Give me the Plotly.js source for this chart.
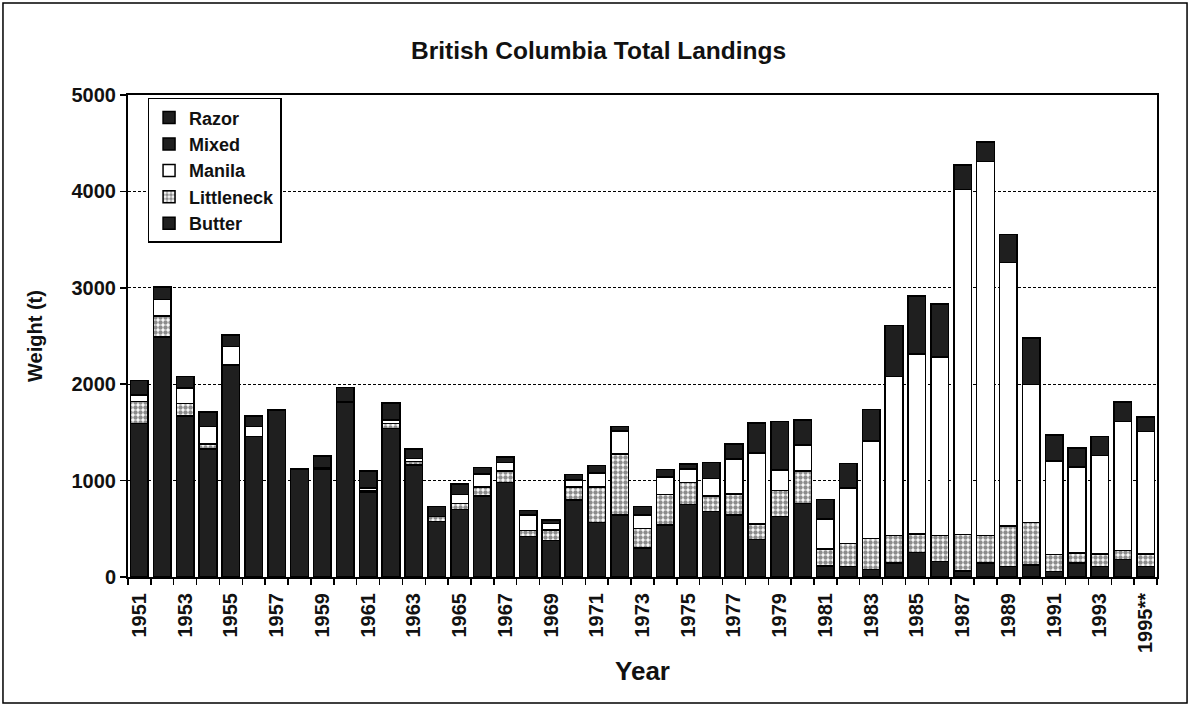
<!DOCTYPE html>
<html>
<head>
<meta charset="utf-8">
<script src="https://cdn.plot.ly/plotly-3.0.1.min.js"></script>
<style>
  html, body { margin: 0; padding: 0; background: #fff; }
  #chart { width: 1190px; height: 706px; }
</style>
</head>
<body>
<div id="chart"></div>
<script>
const years = [1951,1952,1953,1954,1955,1956,1957,1958,1959,1960,
  1961,1962,1963,1964,1965,1966,1967,1968,1969,1970,
  1971,1972,1973,1974,1975,1976,1977,1978,1979,1980,
  1981,1982,1983,1984,1985,1986,1987,1988,1989,1990,
  1991,1992,1993,1994,1995];

const butter = [1590,2490,1670,1330,2200,1460,1730,1120,1120,1810,
  880,1540,1160,575,700,840,980,420,380,800,
  565,645,300,540,750,680,645,390,630,765,
  115,110,80,145,255,160,60,145,110,125,
  55,145,110,180,110];

const littleneck = [230,220,130,50,0,0,0,0,0,10,
  15,50,40,55,65,95,120,60,110,135,
  370,630,205,315,230,160,215,160,265,335,
  175,235,320,285,190,270,380,285,420,440,
  180,105,130,95,130];

const manila = [70,170,160,180,190,100,0,0,10,0,
  30,40,30,0,90,135,90,165,65,70,
  145,240,140,180,140,180,365,735,215,270,
  310,580,1010,1650,1870,1850,3580,3880,2730,1430,
  970,890,1020,1340,1270];

const mixed = [150,130,120,150,120,110,0,0,125,145,
  175,175,100,100,110,65,55,45,35,60,
  75,45,85,80,50,170,155,310,505,260,
  205,250,330,530,600,550,255,200,295,485,
  270,200,195,200,150];

const razor = [0,0,0,0,0,0,0,0,0,0,
  0,0,0,0,0,0,0,0,0,0,
  0,0,0,0,0,0,0,0,0,0,
  0,0,0,0,0,0,0,0,0,0,
  0,0,0,0,0];

const tickYears = [1951,1953,1955,1957,1959,1961,1963,1965,1967,1969,1971,1973,
  1975,1977,1979,1981,1983,1985,1987,1989,1991,1993,1995];
const tickLabels = ['1951','1953','1955','1957','1959','1961','1963','1965','1967','1969',
  '1971','1973','1975','1977','1979','1981','1983','1985','1987','1989','1991','1993','1995**'];

const DARK = '#1f1f1f';
const FONT = 'Liberation Sans, Arial, sans-serif';
const line = {color: '#000', width: 1.5};

function bar(name, vals, marker) {
  return {
    type: 'bar', name: '<b>' + name + '</b>', x: years, y: vals, legendgroup: name,
    marker: Object.assign({line: line}, marker),
    hoverinfo: 'x+y+name'
  };
}

const traces = [
  bar('Butter', butter, {color: DARK}),
  bar('Littleneck', littleneck, {color: '#ffffff',
    pattern: {shape: '.', fgcolor: '#1a1a1a', bgcolor: '#ffffff', size: 5, solidity: 0.62, fillmode: 'overlay'}}),
  bar('Manila', manila, {color: '#ffffff'}),
  bar('Mixed', mixed, {color: DARK}),
  bar('Razor', razor, {color: DARK})
];

const boundaries = years.map(y => y - 0.5).concat([years[years.length - 1] + 0.5]);

const layout = {
  width: 1190, height: 706,
  margin: {l: 128, r: 33, t: 95, b: 129},
  paper_bgcolor: '#fff', plot_bgcolor: '#fff',
  barmode: 'stack', bargap: 0.23,
  font: {family: FONT, color: '#111', size: 16},
  title: {
    text: '<b>British Columbia Total Landings</b>',
    font: {family: FONT, size: 24.5, color: '#111'},
    x: 0.503, xref: 'container', xanchor: 'center',
    y: 0.929, yref: 'container', yanchor: 'middle'
  },
  xaxis: {
    range: [1950.5, 1995.5],
    tickmode: 'array', tickvals: tickYears,
    ticktext: tickLabels.map(t => '<b>' + t + '</b>'),
    tickangle: -90,
    tickfont: {family: FONT, size: 20, color: '#111'},
    ticks: 'outside', ticklen: 6, tickcolor: 'rgba(0,0,0,0)',
    minor: {tickmode: 'array', tickvals: boundaries, ticks: 'outside', ticklen: 6,
      tickwidth: 1.5, tickcolor: '#000', showgrid: false},
    showgrid: false, zeroline: false,
    showline: true, linecolor: '#000', linewidth: 2, mirror: true,
    title: {text: '<b>Year</b>', font: {family: FONT, size: 26, color: '#111'}, standoff: 10},
    automargin: false
  },
  yaxis: {
    range: [0, 5000], tickmode: 'linear', tick0: 0, dtick: 1000,
    tickfont: {family: FONT, size: 20, color: '#111'},
    tickprefix: '<b>', ticksuffix: '</b>',
    ticks: 'outside', ticklen: 6, tickwidth: 1.5, tickcolor: '#000',
    showgrid: true, gridcolor: '#000', gridwidth: 1, griddash: '3px,2px',
    zeroline: false,
    showline: true, linecolor: '#000', linewidth: 2, mirror: true,
    title: {text: '<b>Weight (t)</b>', font: {family: FONT, size: 20, color: '#111'}, standoff: 24},
    automargin: false
  },
  legend: {
    x: 0.019, y: 0.994, xanchor: 'left', yanchor: 'top',
    traceorder: 'reversed', tracegroupgap: 6,
    bgcolor: '#fff', bordercolor: '#000', borderwidth: 1.5,
    font: {family: FONT, size: 18, color: '#111'},
    itemwidth: 30
  },
  showlegend: true,
  shapes: [{
    type: 'rect', xref: 'paper', yref: 'paper',
    x0: -0.1215, x1: 1.0292, y0: -0.2614, y1: 1.1909,
    line: {color: '#000', width: 1.5}, fillcolor: 'rgba(0,0,0,0)', layer: 'below'
  }]
};

Plotly.newPlot('chart', traces, layout, {displayModeBar: false, staticPlot: true});
</script>
</body>
</html>
